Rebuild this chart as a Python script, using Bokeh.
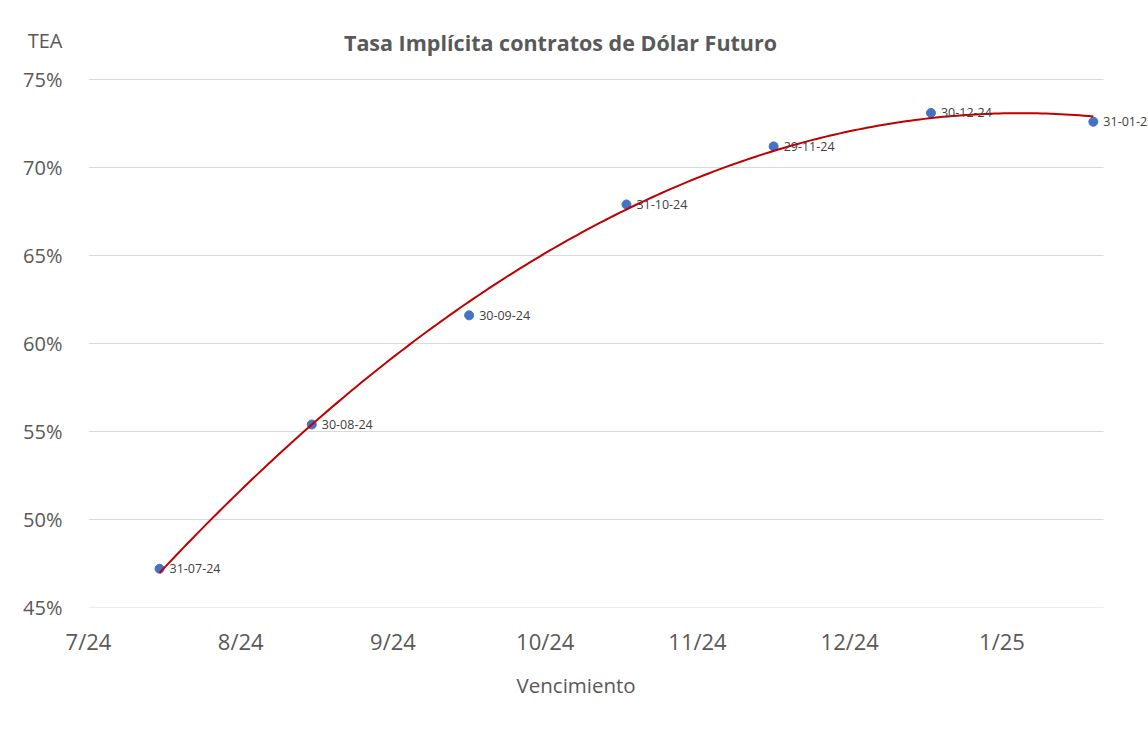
from datetime import date
import numpy as np
from bokeh.plotting import figure
from bokeh.models import (ColumnDataSource, LabelSet, Label, Range1d, FixedTicker,
                          NumeralTickFormatter, Title)
from bokeh.core.properties import value
from bokeh.embed import file_html
from bokeh.resources import INLINE

# ---- data ----
maturities = ["2024-07-31", "2024-08-30", "2024-09-30", "2024-10-31",
              "2024-11-29", "2024-12-30", "2025-01-31"]
point_labels = ["31-07-24", "30-08-24", "30-09-24", "31-10-24",
                "29-11-24", "30-12-24", "31-01-25"]
tea = [0.472, 0.554, 0.616, 0.679, 0.712, 0.731, 0.726]

axis_start = "2024-07-17"
axis_end = "2025-02-02"
tick_dates = ["2024-07-17", "2024-08-16", "2024-09-15", "2024-10-15",
              "2024-11-14", "2024-12-14", "2025-01-13"]
tick_labels = ["7/24", "8/24", "9/24", "10/24", "11/24", "12/24", "1/25"]
y_ticks = [0.45, 0.50, 0.55, 0.60, 0.65, 0.70, 0.75]

title_text = "Tasa Implícita contratos de Dólar Futuro"
y_title = "TEA"
x_title = "Vencimiento"

# ---- helpers ----
base = date.fromisoformat(axis_start)
def days(s):
    return (date.fromisoformat(s) - base).days

xd = [days(d) for d in maturities]
tick_pos = [days(d) for d in tick_dates]

# quadratic trendline (as in the spreadsheet)
coef = np.polyfit(xd, tea, 2)
xt = np.linspace(xd[0], xd[-1], 200)
yt = np.polyval(coef, xt)

FONT = "Open Sans"
GREY = "#595959"

# ---- layout (pixels) ----
W, H = 1148, 730
PLOT_L, PLOT_R, PLOT_T, PLOT_B = 88, 1103, 79, 607   # chart's plot area
x_end = days(axis_end)
# the frame is stretched to the canvas' right and top edges so that texts
# there are not clipped; the plot-area look is kept with drawn grid lines
x_view_end = x_end * (W - PLOT_L) / (PLOT_R - PLOT_L)
y_per_px = (y_ticks[-1] - y_ticks[0]) / (PLOT_B - PLOT_T)
y_view_end = y_ticks[-1] + PLOT_T * y_per_px
tea_tick = round(y_ticks[-1] + (PLOT_T - 40) * y_per_px, 3)

p = figure(width=W, height=H, output_backend="svg", toolbar_location=None,
           x_range=Range1d(0, x_view_end), y_range=Range1d(y_ticks[0], y_view_end),
           min_border_left=PLOT_L, min_border_right=0, min_border_top=0,
           min_border_bottom=H - PLOT_B)
p.outline_line_color = None
p.background_fill_color = "white"
p.border_fill_color = "white"

# axes
p.xaxis.ticker = FixedTicker(ticks=tick_pos)
p.xaxis.major_label_overrides = {t: l for t, l in zip(tick_pos, tick_labels)}
p.yaxis.ticker = FixedTicker(ticks=y_ticks + [tea_tick])
p.yaxis.formatter = NumeralTickFormatter(format="0%")
p.yaxis.major_label_overrides = {tea_tick: y_title}
for ax in (p.xaxis, p.yaxis):
    ax.axis_line_color = None
    ax.major_tick_line_color = None
    ax.minor_tick_line_color = None
    ax.major_label_text_font = FONT
    ax.major_label_text_color = GREY
p.xaxis.major_label_text_font_size = "22px"
p.yaxis.major_label_text_font_size = "20px"
p.xaxis.major_label_standoff = 12
p.yaxis.major_label_standoff = 20
p.xgrid.grid_line_color = None
p.ygrid.grid_line_color = None

# horizontal grid lines limited to the plot area
n = len(y_ticks)
p.segment(x0=[0] * n, x1=[x_end] * n, y0=y_ticks, y1=y_ticks,
          line_color="#d9d9d9", line_width=1)

src = ColumnDataSource(dict(x=xd, y=tea, lab=point_labels))
p.scatter("x", "y", source=src, size=9, fill_color="#4472C4",
          line_color="#4472C4")
p.line(xt, yt, line_color="#C00000", line_width=2)

p.add_layout(LabelSet(x="x", y="y", text="lab", source=src, x_offset=10,
                      y_offset=0, text_baseline="middle", text_font=value(FONT),
                      text_font_size=value("12.5px"), text_color="#404040"))

# chart title (screen units measured from the frame's bottom-left corner)
p.add_layout(Label(x=560 - PLOT_L, y=PLOT_B - 42, x_units="screen",
                   y_units="screen", text=title_text, text_align="center",
                   text_baseline="middle", text_font=FONT,
                   text_font_style="bold", text_font_size="21.5px",
                   text_color=GREY))

# x axis title
p.add_layout(Title(text=x_title, align="left", offset=516 - PLOT_L,
                   text_font=FONT, text_font_size="20.5px",
                   text_font_style="normal", text_color=GREY, standoff=21),
             "below")

open("out.html", "w").write(file_html(p, INLINE))
